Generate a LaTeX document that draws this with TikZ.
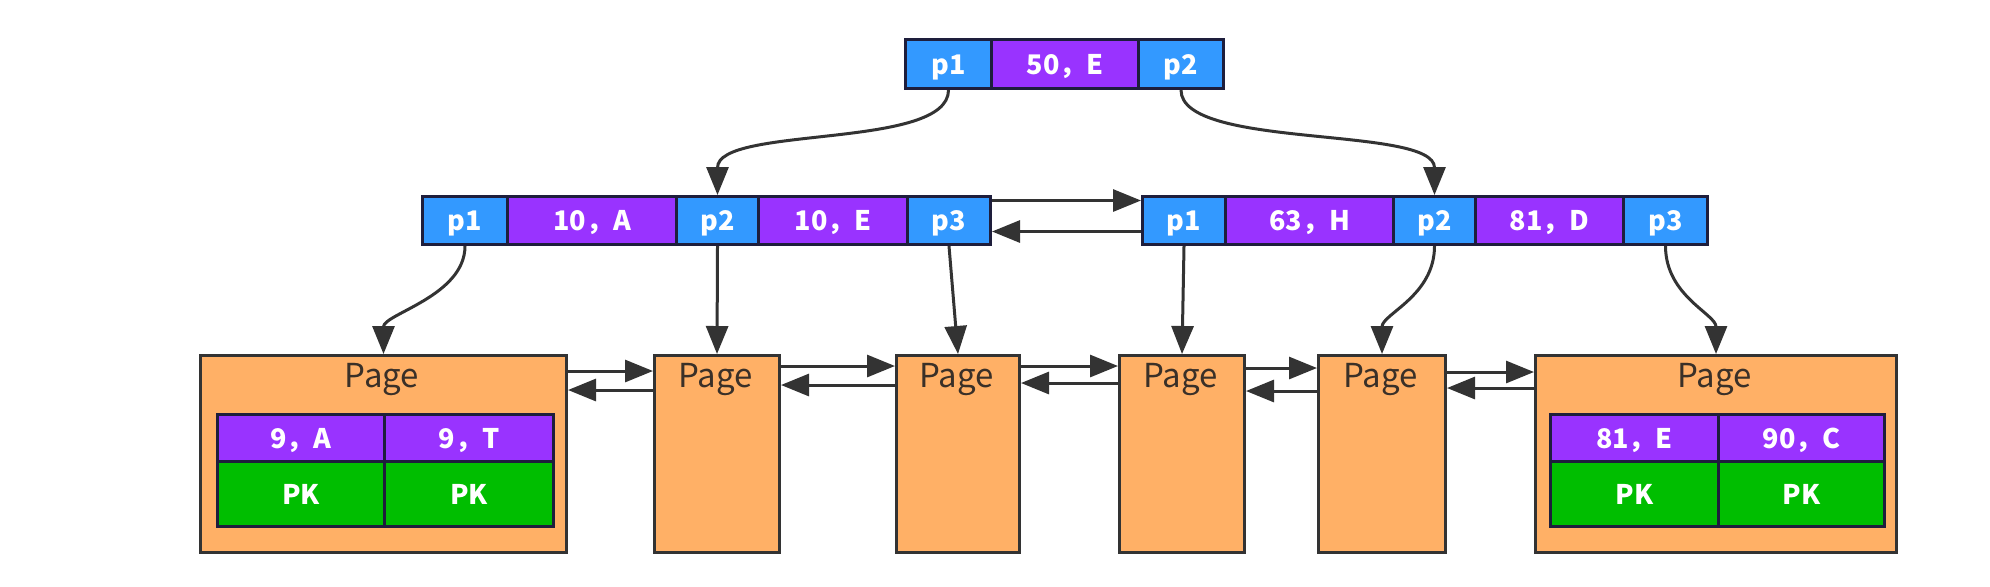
\documentclass[tikz,border=0pt]{standalone}
\usepackage{fontspec}
\newfontfamily\cjk{Noto Sans CJK SC}
\usetikzlibrary{arrows.meta}
\definecolor{cblue}{HTML}{3399FF}
\definecolor{cpurple}{HTML}{9933FF}
\definecolor{cgreen}{HTML}{00BE00}
\definecolor{corange}{HTML}{FFB066}
\definecolor{cborder}{HTML}{1E1E3C}
\definecolor{pborder}{HTML}{333333}
\definecolor{arrowc}{HTML}{333333}
\definecolor{textdark}{HTML}{3A3028}
\newcommand\cellnode[7]{\node[#2, minimum width=#5*0.5pt, minimum height=#6*0.5pt] (#1) at (#3,#4) {#7};}
\tikzset{
  cellbase/.style={draw=cborder, line width=1.5pt, inner sep=0pt, anchor=north west, text=white,
    font=\cjk\bfseries\fontsize{13.5}{14}\selectfont, text height=10pt, text depth=0pt},
  bluecell/.style={cellbase, fill=cblue},
  purplecell/.style={cellbase, fill=cpurple},
  greencell/.style={cellbase, fill=cgreen},
  pagebox/.style={draw=pborder, fill=corange, line width=1.5pt, inner sep=0pt, anchor=north west},
  pagelabel/.style={anchor=base, inner sep=0pt, font=\cjk\fontsize{16.5}{17}\selectfont, text=textdark},
  conn/.style={draw=arrowc, line width=1.5pt, -{Triangle[length=14pt,width=11pt]}}
}
\begin{document}
\begin{tikzpicture}[x=0.5pt,y=-0.5pt]
\fill[white] (0,0) rectangle (1990,586);
\useasboundingbox (0,0) rectangle (1990,586);
% root
\cellnode{r1}{bluecell}{904}{38}{86}{49}{p1}
\cellnode{rk}{purplecell}{990}{38}{147}{49}{50，E}
\cellnode{r2}{bluecell}{1137}{38}{85}{49}{p2}
% level 2 left
\cellnode{a1}{bluecell}{421}{195}{85}{48}{p1}
\cellnode{ak1}{purplecell}{506}{195}{169}{48}{10，A}
\cellnode{a2}{bluecell}{675}{195}{82}{48}{p2}
\cellnode{ak2}{purplecell}{757}{195}{149}{48}{10，E}
\cellnode{a3}{bluecell}{906}{195}{83}{48}{p3}
% level 2 right
\cellnode{b1}{bluecell}{1141}{195}{83}{48}{p1}
\cellnode{bk1}{purplecell}{1224}{195}{168}{48}{63，H}
\cellnode{b2}{bluecell}{1392}{195}{82}{48}{p2}
\cellnode{bk2}{purplecell}{1474}{195}{148}{48}{81，D}
\cellnode{b3}{bluecell}{1622}{195}{84}{48}{p3}
% leaves
\node[pagebox, minimum width=183pt, minimum height=98.5pt] (L1) at (199,354) {};
\node[pagebox, minimum width=62.5pt, minimum height=98.5pt] (L2) at (653,354) {};
\node[pagebox, minimum width=61.5pt, minimum height=98.5pt] (L3) at (895,354) {};
\node[pagebox, minimum width=62.5pt, minimum height=98.5pt] (L4) at (1118,354) {};
\node[pagebox, minimum width=63.5pt, minimum height=98.5pt] (L5) at (1317,354) {};
\node[pagebox, minimum width=180.5pt, minimum height=98.5pt] (L6) at (1534,354) {};
\node[pagelabel] (t1) at (382,387) {Page};
\node[pagelabel] (t2) at (715.5,387) {Page};
\node[pagelabel] (t3) at (956.5,387) {Page};
\node[pagelabel] (t4) at (1180.5,387) {Page};
\node[pagelabel] (t5) at (1380.5,387) {Page};
\node[pagelabel] (t6) at (1714.5,387) {Page};
% leaf records
\cellnode{e1}{purplecell}{216}{413}{167}{47}{9，A}
\cellnode{e2}{purplecell}{383}{413}{169}{47}{9，T}
\cellnode{k1}{greencell}{216}{460}{167}{65}{PK}
\cellnode{k2}{greencell}{383}{460}{169}{65}{PK}
\cellnode{f1}{purplecell}{1549}{413}{168}{47}{81，E}
\cellnode{f2}{purplecell}{1717}{413}{166}{47}{90，C}
\cellnode{g1}{greencell}{1549}{460}{168}{65}{PK}
\cellnode{g2}{greencell}{1717}{460}{166}{65}{PK}
% root to level 2
\draw[conn] (r1.south) .. controls +(0,60) and +(0,-70) .. (a2.north);
\draw[conn] (r2.south) .. controls +(0,60) and +(0,-70) .. (b2.north);
% level 2 siblings
\draw[conn] ([yshift=10pt]a3.east) -- ([yshift=10pt]b1.west);
\draw[conn] ([yshift=-5.5pt]b1.west) -- ([yshift=-5.5pt]a3.east);
% level 2 to leaves
\draw[conn] (a1.south) .. controls +(0,50) and +(0,-40) .. (L1.north);
\draw[conn] (a2.south) -- (L2.north);
\draw[conn] (a3.south) -- (L3.north);
\draw[conn] (b1.south) -- (L4.north);
\draw[conn] (b2.south) .. controls +(0,50) and +(0,-40) .. (L5.north);
\draw[conn] (b3.south) .. controls +(0,50) and +(0,-40) .. (L6.north);
% leaf links
\draw[conn] ([yshift=-8.5pt]L1.north east) -- ([yshift=-8.5pt]L2.north west);
\draw[conn] ([yshift=-18pt]L2.north west) -- ([yshift=-18pt]L1.north east);
\draw[conn] ([yshift=-6pt]L2.north east) -- ([yshift=-6pt]L3.north west);
\draw[conn] ([yshift=-15.5pt]L3.north west) -- ([yshift=-15.5pt]L2.north east);
\draw[conn] ([yshift=-6pt]L3.north east) -- ([yshift=-6pt]L4.north west);
\draw[conn] ([yshift=-14.5pt]L4.north west) -- ([yshift=-14.5pt]L3.north east);
\draw[conn] ([yshift=-7pt]L4.north east) -- ([yshift=-7pt]L5.north west);
\draw[conn] ([yshift=-18.5pt]L5.north west) -- ([yshift=-18.5pt]L4.north east);
\draw[conn] ([yshift=-9pt]L5.north east) -- ([yshift=-9pt]L6.north west);
\draw[conn] ([yshift=-17pt]L6.north west) -- ([yshift=-17pt]L5.north east);
\end{tikzpicture}
\end{document}
